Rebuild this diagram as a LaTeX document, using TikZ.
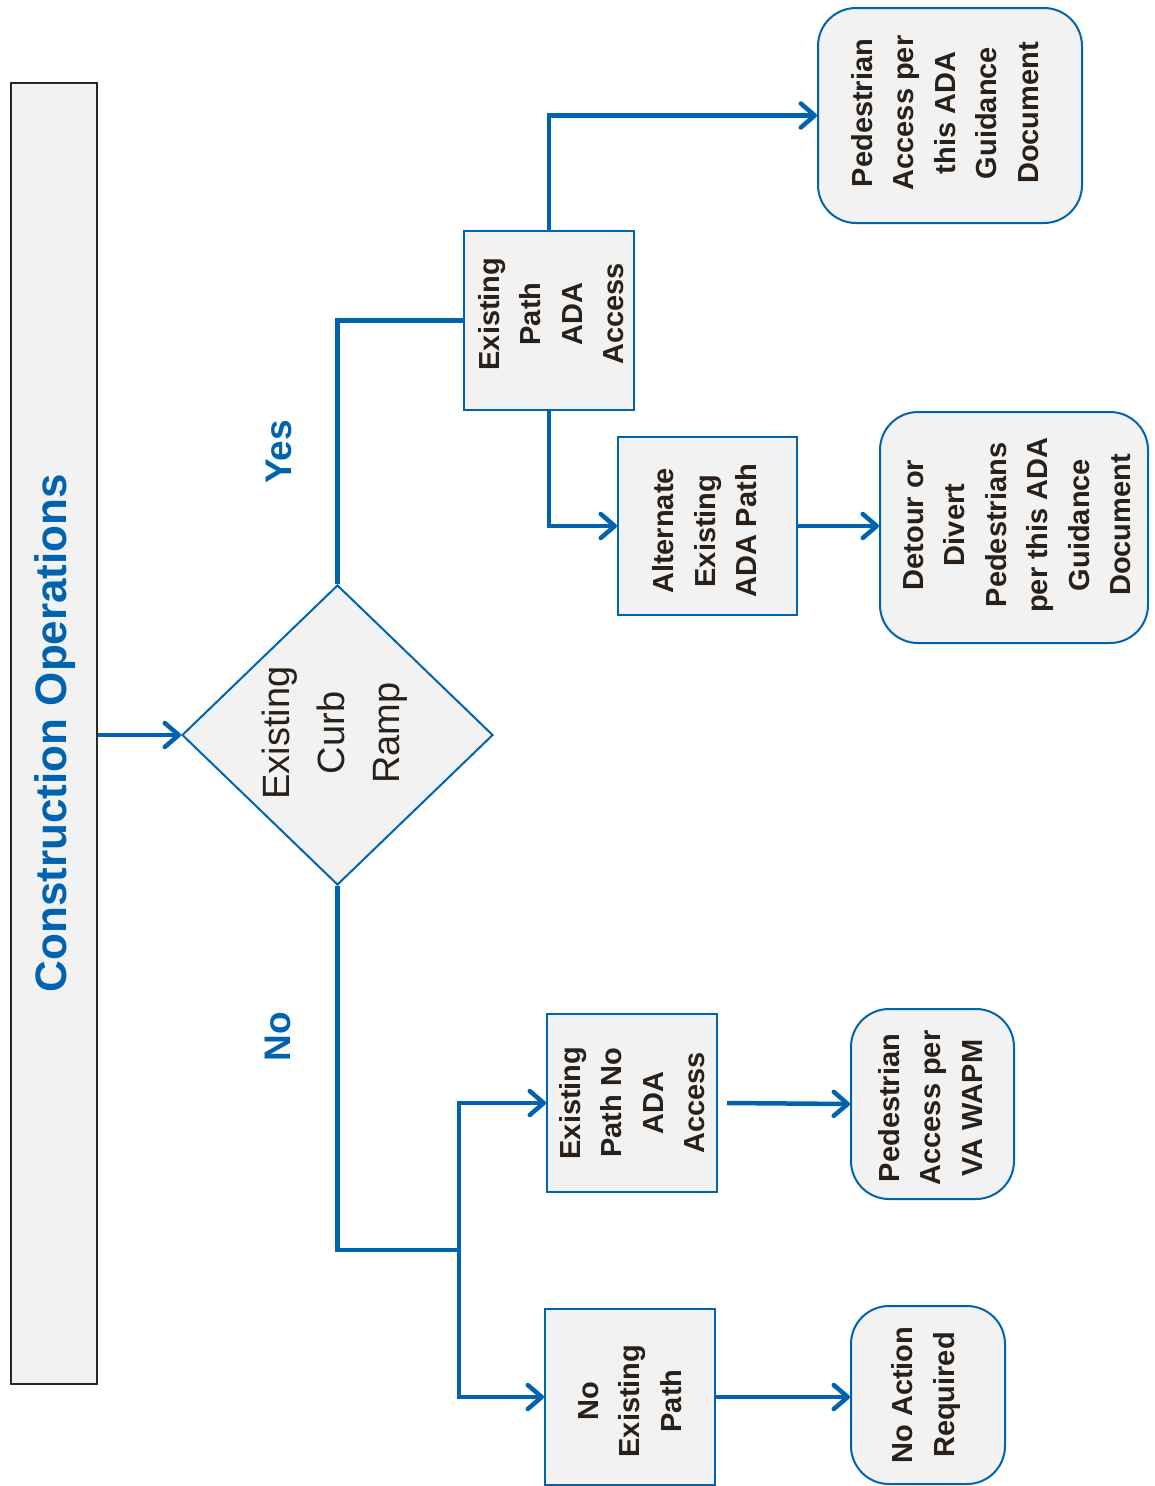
\documentclass[tikz,border=0pt]{standalone}
\usepackage{fontspec}
\setmainfont{Liberation Sans}
\usetikzlibrary{shapes.geometric,arrows.meta}
\definecolor{cblue}{RGB}{0,99,176}
\definecolor{ctext}{RGB}{40,32,25}
\definecolor{cfill}{RGB}{242,242,242}
\definecolor{cbar}{RGB}{45,37,31}
\begin{document}
\begin{tikzpicture}[x=1pt,y=-1pt,
  box/.style={draw=cblue,line width=2pt,fill=cfill,inner sep=0pt},
  rbox/.style={box,rounded corners=38pt},
  lbl/.style={rotate=90,align=center,text=ctext,font=\bfseries\fontsize{29}{41.5}\selectfont,inner sep=0pt},
  conn/.style={draw=cblue,line width=4.5pt},
  arr/.style={conn,-{Straight Barb[length=14pt,width=24pt,round]}},
]
\useasboundingbox (0,0) rectangle (1155,1486);

% bar
\node[draw=cbar,line width=2.5pt,fill=cfill,minimum width=86pt,minimum height=1301pt,inner sep=0pt] (bar) at (54,733.5) {};
\node[rotate=90,text=cblue,font=\bfseries\fontsize{44}{50}\selectfont,inner sep=0pt] (bart) at (55,733) {Construction Operations};

% diamond
\node[diamond,draw=cblue,line width=2pt,fill=cfill,minimum width=311pt,minimum height=300pt,inner sep=0pt] (dia) at (337.5,735) {};
\node[rotate=90,align=center,text=ctext,font=\fontsize{38}{55}\selectfont,inner sep=0pt] (diat) at (335,733) {Existing\\Curb\\Ramp};

% boxes
\node[box,minimum width=170pt,minimum height=179pt] (b1) at (549,320.5) {};
\node[lbl] (b1t) at (551,314) {Existing\\Path\\ADA\\Access};
\node[rbox,minimum width=264pt,minimum height=215pt] (r1) at (950,115.5) {};
\node[lbl] (r1t) at (945,113) {Pedestrian\\Access per\\this ADA\\Guidance\\Document};
\node[box,minimum width=179pt,minimum height=178pt] (b2) at (707.5,526) {};
\node[lbl] (b2t) at (705,531) {Alternate\\Existing\\ADA Path};
\node[rbox,minimum width=268pt,minimum height=231pt] (r2) at (1014,527.5) {};
\node[lbl] (r2t) at (1017,525) {Detour or\\Divert\\Pedestrians\\per this ADA\\Guidance\\Document};
\node[box,minimum width=170pt,minimum height=178pt] (b3) at (632,1103) {};
\node[lbl] (b3t) at (632,1103) {Existing\\Path No\\ADA\\Access};
\node[rbox,minimum width=163pt,minimum height=190pt] (r3) at (932.5,1104) {};
\node[lbl] (r3t) at (930,1108) {Pedestrian\\Access per\\VA WAPM};
\node[box,minimum width=170pt,minimum height=176pt] (b4) at (630,1397) {};
\node[lbl] (b4t) at (630,1401) {No\\Existing\\Path};
\node[rbox,minimum width=154pt,minimum height=178pt] (r4) at (928,1395) {};
\node[lbl] (r4t) at (926,1395) {No Action\\Required};

% labels
\node[rotate=90,text=cblue,font=\bfseries\fontsize{37}{40}\selectfont,inner sep=0pt] (yes) at (279,452) {Yes};
\node[rotate=90,text=cblue,font=\bfseries\fontsize{37}{40}\selectfont,inner sep=0pt] (no) at (278,1037) {No};

% connectors
\draw[arr] (bar.east |- dia.west) -- (dia.west);
\draw[conn] (dia.north) |- (b1.west);
\draw[arr] (b1.north) |- (r1.west);
\draw[arr] (b1.south) |- (b2.west);
\draw[arr] (b2.east) -- (b2.east -| r2.west);
\coordinate (j) at (459,1250);
\draw[conn] (dia.south) |- (j);
\draw[arr] (j) |- (b3.west);
\draw[arr] (j) |- (b4.west);
\draw[arr] ([xshift=9pt]b3.east) -- (r3.west);
\draw[arr] (b4.east) -- (b4.east -| r4.west);
\end{tikzpicture}
\end{document}
